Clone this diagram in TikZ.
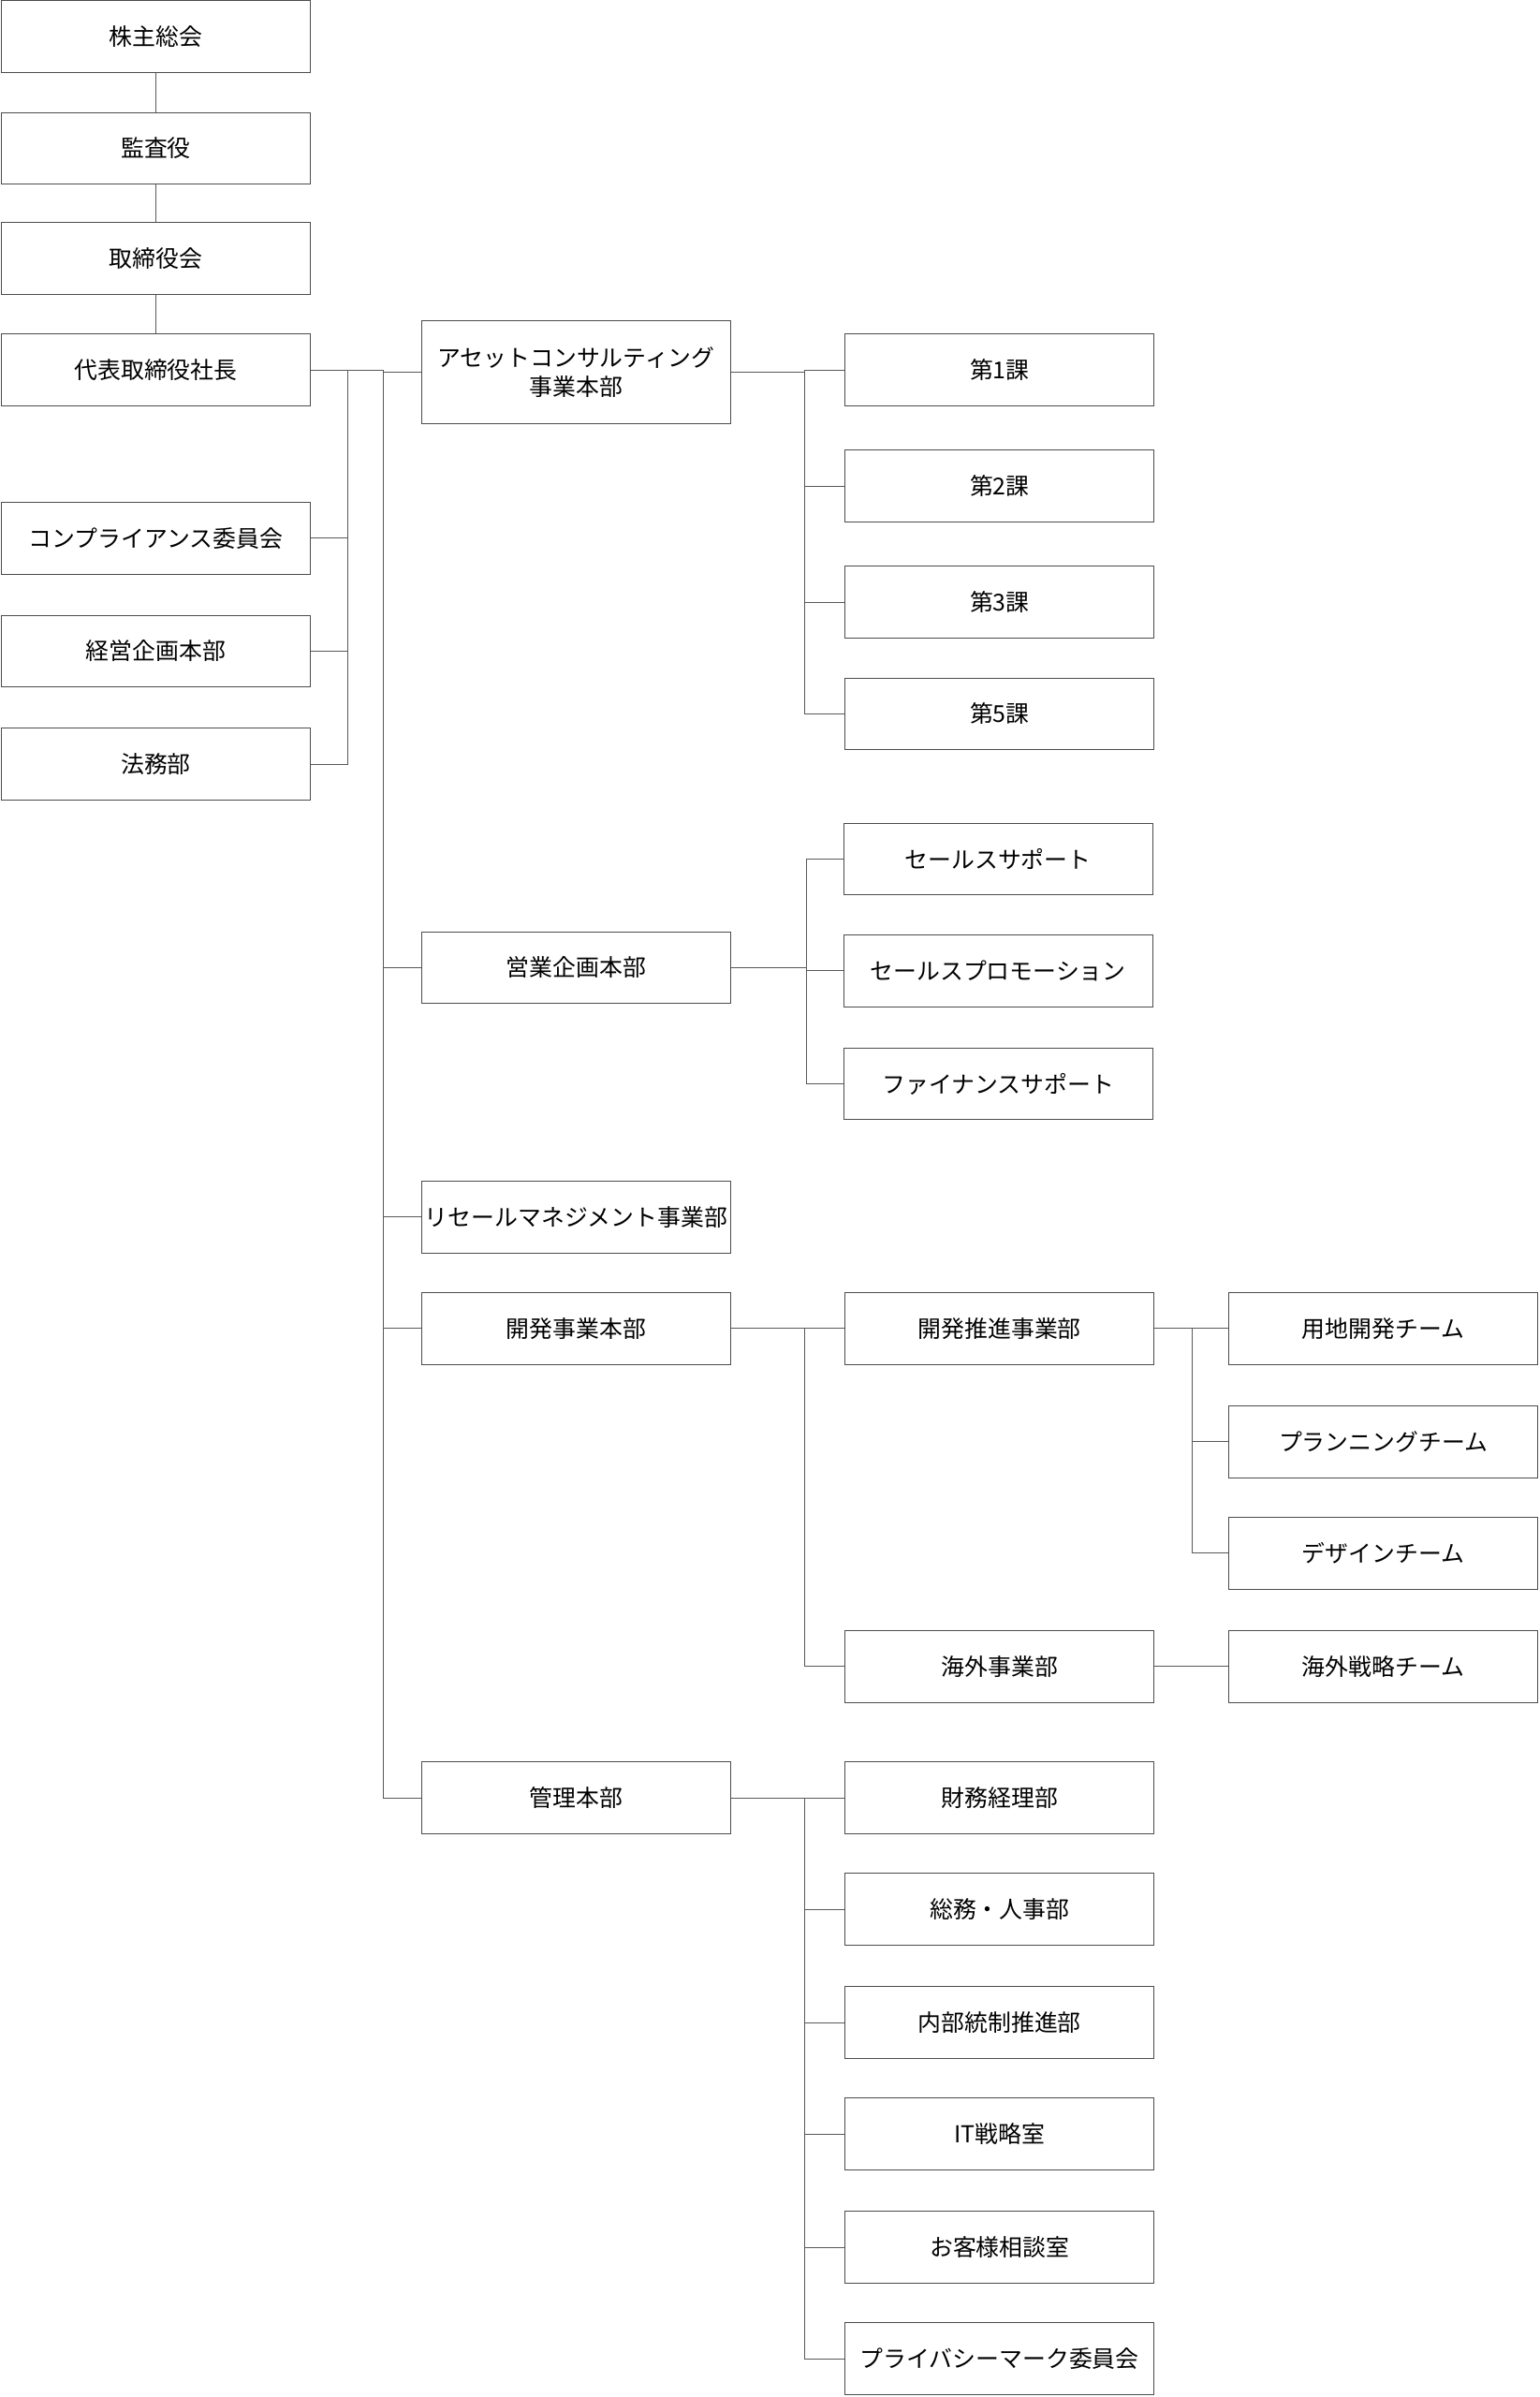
\documentclass[tikz,border=0pt]{standalone}
\usepackage{fontspec}
\setmainfont{Noto Sans CJK JP}
\begin{document}
\begin{tikzpicture}[x=0.3mm,y=-0.3mm,
  box/.style={draw=black!70,line width=0.5pt,minimum width=60.6mm,minimum height=14.1mm,inner sep=0pt,align=center,font=\fontsize{13}{16}\selectfont},
  ln/.style={draw=black!65,line width=0.5pt}]
\useasboundingbox (0,0) rectangle (1007,1568);
\node[box] (a1) at (102,24) {株主総会};
\node[box] (a2) at (102,97) {監査役};
\node[box] (a3) at (102,169) {取締役会};
\node[box] (ceo) at (102,242) {代表取締役社長};
\node[box] (l1) at (102,352) {コンプライアンス委員会};
\node[box] (l2) at (102,426) {経営企画本部};
\node[box] (l3) at (102,500) {法務部};
\node[box,minimum height=20.1mm] (b1) at (377,243.5) {アセットコンサルティング\\事業本部};
\node[box] (b2) at (377,633) {営業企画本部};
\node[box] (b3) at (377,796) {リセールマネジメント事業部};
\node[box] (b4) at (377,869) {開発事業本部};
\node[box] (b5) at (377,1176) {管理本部};
\node[box] (c1) at (654,242) {第1課};
\node[box] (c2) at (654,318) {第2課};
\node[box] (c3) at (654,394) {第3課};
\node[box] (c4) at (654,467) {第5課};
\node[box] (s1) at (653,562) {セールスサポート};
\node[box] (s2) at (653,635) {セールスプロモーション};
\node[box] (s3) at (653,709) {ファイナンスサポート};
\node[box] (d1) at (654,869) {開発推進事業部};
\node[box] (d2) at (654,1090) {海外事業部};
\node[box] (m1) at (654,1176) {財務経理部};
\node[box] (m2) at (654,1249) {総務・人事部};
\node[box] (m3) at (654,1323) {内部統制推進部};
\node[box] (m4) at (654,1396) {IT戦略室};
\node[box] (m5) at (654,1470) {お客様相談室};
\node[box] (m6) at (654,1543) {プライバシーマーク委員会};
\node[box] (e1) at (905,869) {用地開発チーム};
\node[box] (e2) at (905,943) {プランニングチーム};
\node[box] (e3) at (905,1016) {デザインチーム};
\node[box] (e4) at (905,1090) {海外戦略チーム};
\draw[ln] (a1) -- (a2); \draw[ln] (a2) -- (a3); \draw[ln] (a3) -- (ceo);
\foreach \n in {l1,l2,l3} \draw[ln] (\n.east) -- ++(24,0) |- (ceo.east);
\foreach \n in {b1,b2,b3,b4,b5} \draw[ln] (\n.west) -- ++(-25,0) |- (ceo.east);
\foreach \n in {c1,c2,c3,c4} \draw[ln] (\n.west) -- ++(-26,0) |- (b1.east);
\foreach \n in {s1,s2,s3} \draw[ln] (\n.west) -- ++(-24,0) |- (b2.east);
\foreach \n in {d1,d2} \draw[ln] (\n.west) -- ++(-26,0) |- (b4.east);
\foreach \n in {m1,m2,m3,m4,m5,m6} \draw[ln] (\n.west) -- ++(-26,0) |- (b5.east);
\foreach \n in {e1,e2,e3} \draw[ln] (\n.west) -- ++(-24,0) |- (d1.east);
\draw[ln] (d2) -- (e4);
\end{tikzpicture}
\end{document}
